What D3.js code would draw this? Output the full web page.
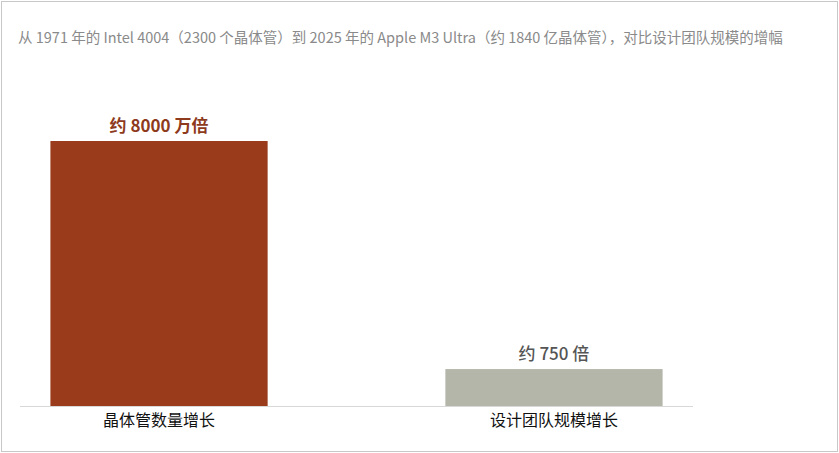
<!DOCTYPE html>
<html><head><meta charset="utf-8">
<script src="https://cdn.jsdelivr.net/npm/d3@7/dist/d3.min.js"></script>
<style>body{margin:0;background:#fff;font-family:"Noto Sans CJK SC","Noto Sans",sans-serif}</style>
</head><body><svg id="c" width="839" height="453"></svg>
<script>
const categories = ["晶体管数量增长", "设计团队规模增长"];
const values = [80000000, 750];
const valueLabels = ["约 8000 万倍", "约 750 倍"];
const colors = ["#9A3B1B", "#B4B6A9"];
const labelColors = ["#8E3A1C", "#555555"];
const subtitle = "从 1971 年的 Intel 4004（2300 个晶体管）到 2025 年的 Apple M3 Ultra（约 1840 亿晶体管），对比设计团队规模的增幅";

const svg = d3.select("#c");
svg.append("rect").attr("x",1.5).attr("y",1.5).attr("width",836).attr("height",450)
  .attr("fill","none").attr("stroke","#c8c8c8").attr("stroke-width",1);
svg.append("text").attr("x",18).attr("y",43).attr("font-size",14.5).attr("fill","#8a8a8a").text(subtitle);

const x = d3.scaleBand().domain(categories).range([20,693]).paddingInner(0.45).paddingOuter(0.077);
const y = d3.scaleLog().domain([115, 80000000]).range([406,141]);

svg.selectAll("rect.bar").data(values).join("rect").attr("class","bar")
  .attr("x",(d,i)=>x(categories[i])).attr("width",x.bandwidth())
  .attr("y",d=>y(d)).attr("height",d=>406-y(d)).attr("fill",(d,i)=>colors[i]);

svg.append("line").attr("x1",20).attr("x2",693).attr("y1",406.5).attr("y2",406.5).attr("stroke","#d8d8d8");

svg.selectAll("text.v").data(values).join("text").attr("class","v")
  .attr("x",(d,i)=>x(categories[i])+x.bandwidth()/2).attr("y",d=>y(d)-9)
  .attr("text-anchor","middle").attr("font-size",17).attr("font-weight",(d,i)=>i==0?600:500)
  .attr("fill",(d,i)=>labelColors[i]).text((d,i)=>valueLabels[i]);

svg.selectAll("text.c").data(categories).join("text").attr("class","c")
  .attr("x",d=>x(d)+x.bandwidth()/2).attr("y",426)
  .attr("text-anchor","middle").attr("font-size",16).attr("fill","#111").text(d=>d);
</script></body></html>
